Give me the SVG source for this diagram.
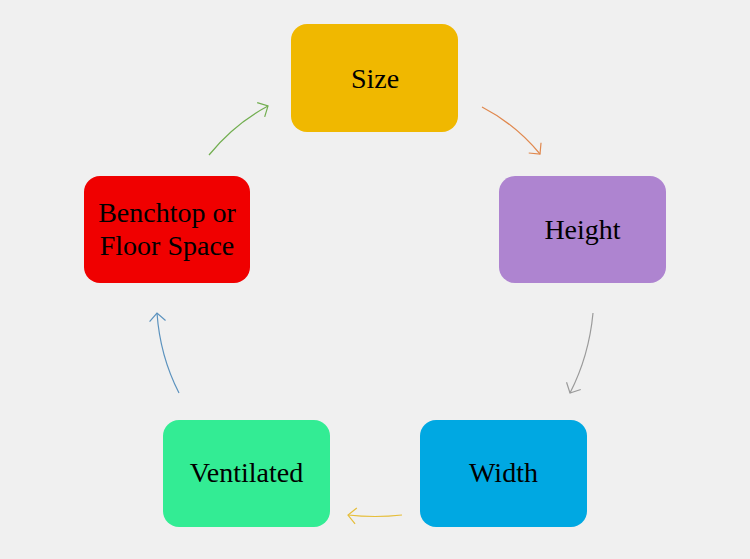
<svg xmlns="http://www.w3.org/2000/svg" width="750" height="559" viewBox="0 0 750 559">
<defs>
<style>
.box{stroke:none}
.lbl{font-family:"Liberation Serif","Times New Roman",serif;font-size:28px;fill:#000;text-anchor:middle}
.c{fill:none;stroke-width:1.2}
</style>
<marker id="mo" markerUnits="userSpaceOnUse" markerWidth="12" markerHeight="18" refX="9" refY="9" orient="auto" viewBox="0 0 12 18"><path d="M1,1 L9,9 L1,17" fill="none" stroke="#E0884E" stroke-width="1.2"/></marker>
<marker id="mg" markerUnits="userSpaceOnUse" markerWidth="12" markerHeight="18" refX="9" refY="9" orient="auto" viewBox="0 0 12 18"><path d="M1,1 L9,9 L1,17" fill="none" stroke="#9A9A9A" stroke-width="1.2"/></marker>
<marker id="my" markerUnits="userSpaceOnUse" markerWidth="12" markerHeight="18" refX="9" refY="9" orient="auto" viewBox="0 0 12 18"><path d="M1,1 L9,9 L1,17" fill="none" stroke="#E6BE3A" stroke-width="1.2"/></marker>
<marker id="mb" markerUnits="userSpaceOnUse" markerWidth="12" markerHeight="18" refX="9" refY="9" orient="auto" viewBox="0 0 12 18"><path d="M1,1 L9,9 L1,17" fill="none" stroke="#5B92BE" stroke-width="1.2"/></marker>
<marker id="mgr" markerUnits="userSpaceOnUse" markerWidth="12" markerHeight="18" refX="9" refY="9" orient="auto" viewBox="0 0 12 18"><path d="M1,1 L9,9 L1,17" fill="none" stroke="#72AE50" stroke-width="1.2"/></marker>
</defs>
<rect width="750" height="559" fill="#F0F0F0"/>
<g id="connectors">
<path class="c" d="M482,107 Q515,124 540,154" stroke="#E0884E" marker-end="url(#mo)"/>
<path class="c" d="M593,313 Q589,356 570,393" stroke="#9A9A9A" marker-end="url(#mg)"/>
<path class="c" d="M402,515 Q375,518 348,515" stroke="#E6BE3A" marker-end="url(#my)"/>
<path class="c" d="M179,393 Q160,356 157,313" stroke="#5B92BE" marker-end="url(#mb)"/>
<path class="c" d="M209,155 Q234,124 268,106" stroke="#72AE50" marker-end="url(#mgr)"/>
</g>
<g id="size"><rect class="box" x="291" y="24" width="167" height="108" rx="16" fill="#F0B800"/><text class="lbl" x="375" y="88">Size</text></g>
<g id="height"><rect class="box" x="499" y="176" width="167" height="107" rx="16" fill="#AE84D0"/><text class="lbl" x="582.5" y="239">Height</text></g>
<g id="width"><rect class="box" x="420" y="420" width="167" height="107" rx="16" fill="#00A8E2"/><text class="lbl" x="503.5" y="482">Width</text></g>
<g id="ventilated"><rect class="box" x="163" y="420" width="167" height="107" rx="16" fill="#33EC94"/><text class="lbl" x="246.5" y="482">Ventilated</text></g>
<g id="benchtop"><rect class="box" x="84" y="176" width="166" height="107" rx="16" fill="#F00000"/><text class="lbl" x="167" y="222">Benchtop or</text><text class="lbl" x="167" y="255">Floor Space</text></g>
</svg>
